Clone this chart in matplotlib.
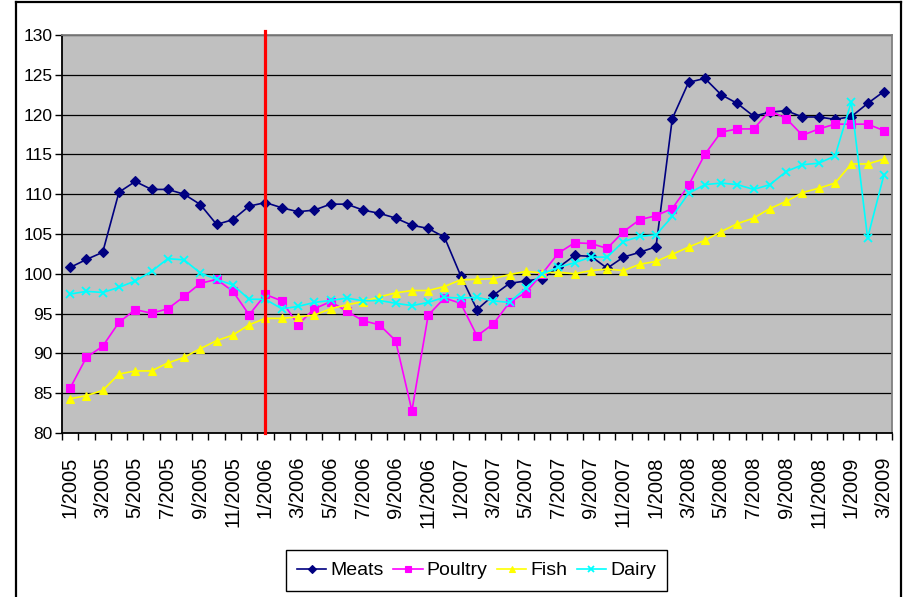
import matplotlib; matplotlib.use("Agg")
import matplotlib.pyplot as plt
from matplotlib.lines import Line2D

# monthly index, 1/2005 .. 3/2009
months = [f"{m}/{y}" for y in range(2005, 2010) for m in range(1, 13)][:51]

meats = [100.8, 101.8, 102.7, 110.25, 111.6, 110.6, 110.6, 110.0, 108.7, 106.2,
         106.8, 108.5, 108.95, 108.3, 107.8, 108.0, 108.75, 108.75, 108.0, 107.6,
         107.0, 106.1, 105.7, 104.6, 99.75, 95.5, 97.3, 98.8, 99.1, 99.4,
         100.8, 102.3, 102.2, 100.7, 102.1, 102.7, 103.4, 119.5, 124.05, 124.55,
         122.5, 121.4, 119.8, 120.3, 120.5, 119.7, 119.7, 119.4, 119.75, 121.4,
         122.9]
poultry = [85.65, 89.5, 90.9, 93.9, 95.5, 95.05, 95.6, 97.15, 98.8, 99.3,
           97.8, 94.85, 97.4, 96.6, 93.6, 95.6, 96.5, 95.3, 94.1, 93.6,
           91.6, 82.8, 94.8, 96.95, 96.3, 92.2, 93.7, 96.4, 97.65, 100.0,
           102.6, 103.9, 103.8, 103.2, 105.3, 106.8, 107.3, 108.2, 111.1, 115.0,
           117.8, 118.2, 118.2, 120.5, 119.5, 117.4, 118.2, 118.8, 118.8, 118.8,
           118.0]
fish = [84.3, 84.7, 85.35, 87.4, 87.8, 87.8, 88.8, 89.5, 90.6, 91.6,
        92.3, 93.6, 94.4, 94.4, 94.6, 94.8, 95.6, 96.1, 96.5, 97.1,
        97.6, 97.9, 97.9, 98.4, 99.25, 99.3, 99.4, 99.9, 100.3, 100.1,
        100.2, 100.0, 100.4, 100.6, 100.4, 101.2, 101.55, 102.45, 103.35, 104.2,
        105.3, 106.3, 107.0, 108.2, 109.1, 110.2, 110.75, 111.4, 113.8, 113.8,
        114.4]
dairy = [97.45, 97.8, 97.65, 98.3, 99.1, 100.3, 101.9, 101.75, 100.1, 99.3,
         98.6, 96.8, 96.8, 95.6, 95.9, 96.4, 96.65, 96.95, 96.6, 96.65,
         96.3, 96.0, 96.4, 97.05, 96.95, 97.05, 96.6, 96.4, 98.2, 100.0,
         100.8, 101.4, 102.1, 102.1, 104.05, 104.7, 104.9, 107.2, 110.1, 111.2,
         111.4, 111.2, 110.6, 111.2, 112.85, 113.7, 113.9, 114.8, 121.6, 104.5,
         112.4]
marker_month = "1/2006"

plt.rcParams["font.family"] = ["Liberation Sans", "DejaVu Sans"]

fig = plt.figure(figsize=(9.05, 5.97), dpi=100)
ax = fig.add_axes([62 / 905, 1 - 433 / 597, 830 / 905, 398 / 597])
ax.set_facecolor("#c0c0c0")

x = list(range(len(months)))
series = [
    ("Meats", meats, "#000080", "D", 5.5),
    ("Poultry", poultry, "#ff00ff", "s", 5.5),
    ("Fish", fish, "#ffff00", "^", 6),
    ("Dairy", dairy, "#00ffff", "x", 6),
]
for name, vals, col, mk, ms in series:
    ax.plot(x, vals, color=col, marker=mk, ms=ms, mew=1.3 if mk == "x" else 0.8,
            mfc=col, mec=col, lw=1.2, label=name, zorder=3)

ax.axvline(months.index(marker_month), ymin=0, ymax=1.009, color="#ff0000",
           lw=2.3, clip_on=False, zorder=4)

ax.set_ylim(80, 130)
ax.set_yticks(range(80, 131, 5))
ax.set_xlim(-0.5, len(months) - 0.5)
ax.set_xticks(x[::2])
ax.set_xticklabels(months[::2], rotation=90, fontsize=14.5)
ax.set_xticks([i - 0.5 for i in range(len(months) + 1)], minor=True)
ax.tick_params(axis="x", which="major", length=0, pad=17)
ax.tick_params(axis="x", which="minor", length=5, width=1, color="black")
ax.tick_params(axis="y", length=5, width=1, labelsize=12.5, pad=2)
ax.grid(axis="y", color="black", lw=0.9)
ax.set_axisbelow(True)
for side in ("top", "right"):
    ax.spines[side].set_color("#808080")
    ax.spines[side].set_linewidth(1.3)
for side in ("left", "bottom"):
    ax.spines[side].set_linewidth(1.3)

# chart frame
frame = dict(color="black", lw=1.6, transform=fig.transFigure)
fig.add_artist(Line2D([16 / 905, 16 / 905], [0, 1 - 2 / 597], **frame))
fig.add_artist(Line2D([901 / 905, 901 / 905], [0, 1 - 2 / 597], **frame))
fig.add_artist(Line2D([16 / 905, 901 / 905], [1 - 2 / 597, 1 - 2 / 597], **frame))

leg = fig.legend(loc="center", bbox_to_anchor=(476.5 / 905, 1 - 570.5 / 597), ncol=4,
                 fontsize=14, fancybox=False, edgecolor="black", framealpha=1,
                 handlelength=1.5, handletextpad=0.2, columnspacing=0.5,
                 borderpad=0.6, borderaxespad=0, markerscale=0.75)
leg.get_frame().set_linewidth(1.0)

fig.savefig("out.png", dpi=100)
